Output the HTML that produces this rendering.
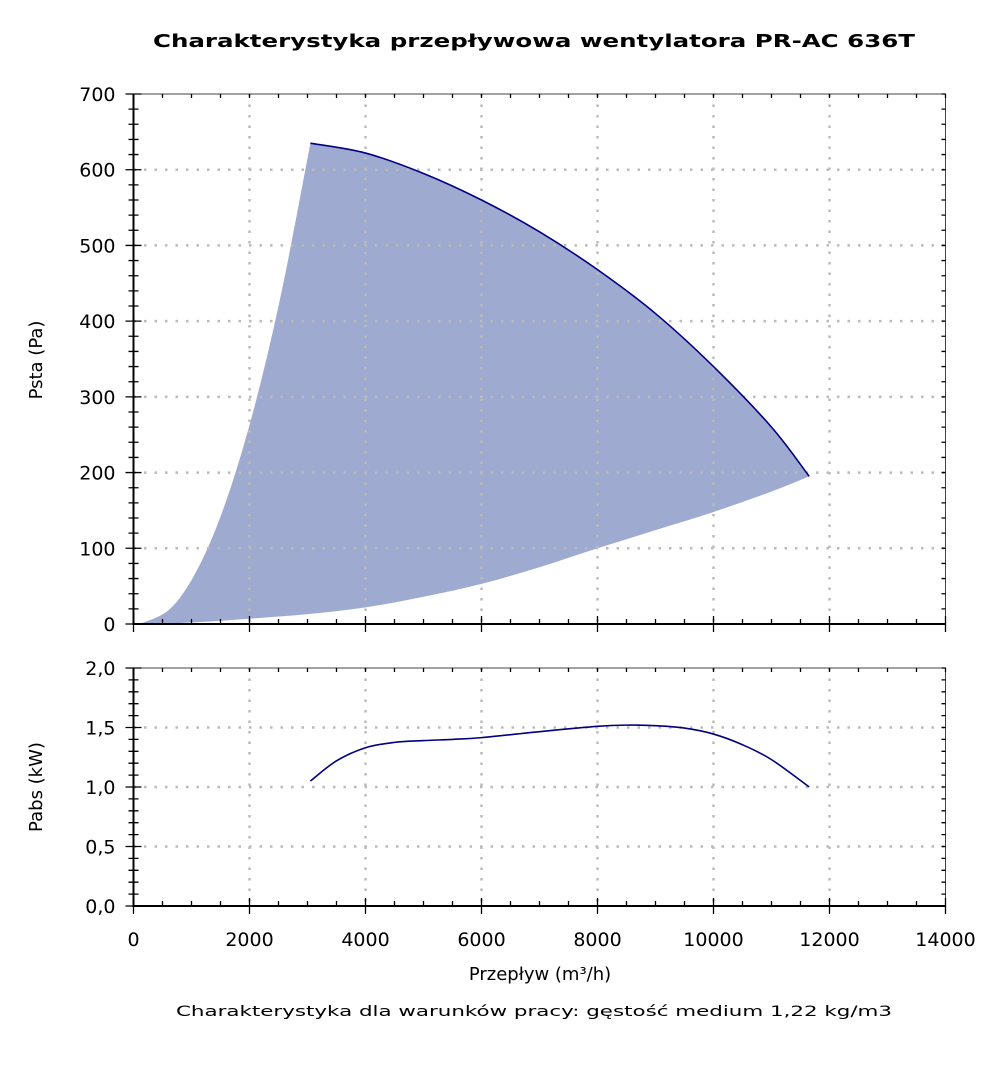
<!DOCTYPE html>
<html><head><meta charset="utf-8"><style>
body{margin:0;background:#fff}
svg text{font-family:"DejaVu Sans","Liberation Sans",sans-serif;fill:#000}
</style></head><body>
<svg id="c" width="1000" height="1062" viewBox="0 0 1000 1062" xmlns="http://www.w3.org/2000/svg">
<text x="534" y="47" text-anchor="middle" font-size="18" font-weight="bold" textLength="762" lengthAdjust="spacingAndGlyphs">Charakterystyka przepływowa wentylatora PR-AC 636T</text>
<g id="topPanel"></g>
<g id="botPanel"></g>
<text x="540" y="980" text-anchor="middle" font-size="18">Przepływ (m³/h)</text>
<text x="534" y="1016" text-anchor="middle" font-size="14" textLength="716" lengthAdjust="spacingAndGlyphs" fill="#222">Charakterystyka dla warunków pracy: gęstość medium 1,22 kg/m3</text>
<text transform="translate(42,360) rotate(-90)" text-anchor="middle" font-size="18">Psta (Pa)</text>
<text transform="translate(42,787) rotate(-90)" text-anchor="middle" font-size="18">Pabs (kW)</text>
</svg>
<script>
const xTicks=[0,2000,4000,6000,8000,10000,12000,14000];
const pTicks=[0,100,200,300,400,500,600,700];
const wTicks=[0,0.5,1.0,1.5,2.0];
const wTickLabels=["0,0","0,5","1,0","1,5","2,0"];
const upperQ=[3050,4000,5000,6000,7000,8000,9000,10000,11000,11650];
const upperP=[635,622,595,560,518,468,410,340,260,195];
const leftQ=[110,600,1000,1400,1800,2200,2600,3050];
const leftP=[0,18,58,122,210,321,456,635];
const lowerQ=[110,1000,2000,3000,4000,5000,6000,7000,8000,9000,10000,11000,11650];
const lowerP=[0,2,7,13,22,36,53,75,100,124,148,175,195];
const powQ=[3050,3500,4000,4500,5000,5500,6000,7000,8000,8500,9000,9500,10000,10500,11000,11650];
const powW=[1.05,1.22,1.33,1.375,1.39,1.4,1.415,1.465,1.51,1.52,1.515,1.495,1.445,1.355,1.23,1.0];

const NS="http://www.w3.org/2000/svg";
const X0=133.5,X1=945.5;
const sx=q=>X0+(q/14000)*(X1-X0);
const TY0=624,TY1=94,sp=p=>TY0-(p/700)*(TY0-TY1);
const BY0=906,BY1=668,sw=w=>BY0-(w/2)*(BY0-BY1);
function mk(par,tag,at){const e=document.createElementNS(NS,tag);for(const k in at)e.setAttribute(k,at[k]);par.appendChild(e);return e;}
function smooth(pts,move){let d=move?`M${pts[0][0]},${pts[0][1]}`:`L${pts[0][0]},${pts[0][1]}`;
 for(let i=0;i<pts.length-1;i++){const p0=pts[Math.max(0,i-1)],p1=pts[i],p2=pts[i+1],p3=pts[Math.min(pts.length-1,i+2)];
 const c1=[p1[0]+(p2[0]-p0[0])/6,p1[1]+(p2[1]-p0[1])/6],c2=[p2[0]-(p3[0]-p1[0])/6,p2[1]-(p3[1]-p1[1])/6];
 d+=`C${c1[0]},${c1[1]} ${c2[0]},${c2[1]} ${p2[0]},${p2[1]}`;}return d;}

function panel(g,y0,y1,sy,yt,ylab,minorY,name){
 xTicks.slice(1,-1).forEach(q=>{const l=mk(g,'line',{x1:sx(q),x2:sx(q),y1:y1,y2:y0,stroke:'#bbb','stroke-width':2.5,'stroke-dasharray':'2.5,8'});
 
 });
 yt.slice(1,-1).forEach(v=>{const l=mk(g,'line',{x1:X0,x2:X1,y1:sy(v),y2:sy(v),stroke:'#bbb','stroke-width':2.5,'stroke-dasharray':'2.5,8'});
 
 });
 const fr=mk(g,'rect',{x:X0,y:y1,width:X1-X0,height:y0-y1,fill:'none',stroke:'#444','stroke-width':1});
 
 
 let d='';
 for(let q=0;q<=14000;q+=500){const x=sx(q),maj=q%2000===0;d+=`M${x},${y0-(maj?8:5)}V${y0+(maj?8:0)}M${x},${y1}V${y1+4}`;}
 const n=Math.round(yt[yt.length-1]/minorY);
 for(let i=0;i<=n;i++){const v=i*minorY,y=sy(v);const maj=yt.some(t=>Math.abs(t-v)<1e-6);
 d+=`M${X0-(maj?8:5)},${y}H${X0+(maj?8:5)}M${X1-4},${y}H${X1}`;}
 const tk=mk(g,'path',{d:d,stroke:'#000','stroke-width':1.3,fill:'none'});
 
 
 const ax=mk(g,'path',{d:`M${X0},${y1}V${y0}H${X1}`,stroke:'#000','stroke-width':2,fill:'none'});
 
 
 yt.forEach((v,i)=>{const t=mk(g,'text',{x:X0-18,y:sy(v)+7,'text-anchor':'end','font-size':19});t.textContent=ylab[i];
 
 });
}
const gTop=document.getElementById('topPanel'),gBot=document.getElementById('botPanel');
const up=upperQ.map((q,i)=>[sx(q),sp(upperP[i])]);
const lf=leftQ.map((q,i)=>[sx(q),sp(leftP[i])]);
const lw=lowerQ.map((q,i)=>[sx(q),sp(lowerP[i])]).reverse();
const area=mk(gTop,'path',{d:smooth(lf,true)+smooth(up,false)+smooth(lw,false)+'Z',fill:'#9eaacf',stroke:'none'});


panel(gTop,TY0,TY1,sp,pTicks,pTicks.map(String),20,'pressure');
const ul=mk(gTop,'path',{d:smooth(up,true),fill:'none',stroke:'#000080','stroke-width':1.6});


panel(gBot,BY0,BY1,sw,wTicks,wTickLabels,0.1,'power');
const pw=mk(gBot,'path',{d:smooth(powQ.map((q,i)=>[sx(q),sw(powW[i])]),true),fill:'none',stroke:'#000080','stroke-width':1.6});


xTicks.forEach(q=>{const t=mk(gBot,'text',{x:sx(q),y:946,'text-anchor':'middle','font-size':19});t.textContent=String(q);

});
</script>
</body></html>
